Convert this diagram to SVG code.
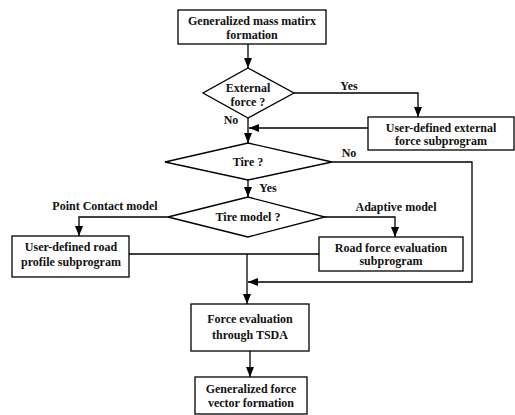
<svg xmlns="http://www.w3.org/2000/svg" width="515" height="415" viewBox="0 0 515 415">
<defs>
<marker id="ah" markerUnits="userSpaceOnUse" markerWidth="10" markerHeight="10" viewBox="0 0 10 10" refX="10" refY="5" orient="auto">
<path d="M0,1 L10,5 L0,9 Z" fill="#000"/>
</marker>
</defs>
<style>
.n{fill:#fff;stroke:#000;stroke-width:1.3}
.c{fill:none;stroke:#000;stroke-width:1.3}
text{font-family:"Liberation Serif","Times New Roman",serif;font-size:12px;font-weight:bold;fill:#111}
.m{text-anchor:middle}
</style>
<rect width="515" height="415" fill="#fff"/>
<g id="connectors">
<path class="c" d="M248,44 V68" marker-end="url(#ah)"/>
<path class="c" d="M294,93 H418 V117" marker-end="url(#ah)"/>
<path class="c" d="M368,128 H249" marker-end="url(#ah)"/>
<path class="c" d="M248,118 V143" marker-end="url(#ah)"/>
<path class="c" d="M332,162 H472 V282 H248" marker-end="url(#ah)"/>
<path class="c" d="M248,180 V197" marker-end="url(#ah)"/>
<path class="c" d="M168,217 H79 V236" marker-end="url(#ah)"/>
<path class="c" d="M325,217 H395 V237" marker-end="url(#ah)"/>
<path class="c" d="M129,254 H319"/>
<path class="c" d="M247,254 V304" marker-end="url(#ah)"/>
<path class="c" d="M250,351 V377" marker-end="url(#ah)"/>
<text x="349" y="90" class="m">Yes</text>
<text x="231" y="124" class="m">No</text>
<text x="349" y="157" class="m">No</text>
<text x="268" y="192" class="m">Yes</text>
<text x="105" y="210" class="m">Point Contact model</text>
<text x="396" y="211" class="m">Adaptive model</text>
</g>
<g id="n1">
<rect class="n" x="178" y="10" width="148" height="34"/>
<text x="252" y="25" class="m">Generalized mass matirx</text>
<text x="252" y="39" class="m">formation</text>
</g>
<g id="n2">
<polygon class="n" points="248,68 294,93 248,118 203,93"/>
<text x="248" y="92" class="m">External</text>
<text x="248" y="106" class="m">force ?</text>
</g>
<g id="n3">
<rect class="n" x="368" y="117" width="146" height="33"/>
<text x="441" y="132" class="m">User-defined external</text>
<text x="441" y="145" class="m">force  subprogram</text>
</g>
<g id="n4">
<polygon class="n" points="248,143 332,162 248,180 165,162"/>
<text x="248" y="166" class="m">Tire ?</text>
</g>
<g id="n5">
<polygon class="n" points="248,197 325,217 248,237 168,217"/>
<text x="248" y="221" class="m">Tire model ?</text>
</g>
<g id="n6">
<rect class="n" x="12" y="236" width="117" height="41"/>
<text x="71" y="251" class="m">User-defined road</text>
<text x="71" y="266" class="m">profile  subprogram</text>
</g>
<g id="n7">
<rect class="n" x="319" y="237" width="144" height="34"/>
<text x="391" y="252" class="m">Road force evaluation</text>
<text x="391" y="265" class="m">subprogram</text>
</g>
<g id="n8">
<rect class="n" x="191" y="304" width="118" height="47"/>
<text x="250" y="323" class="m">Force evaluation</text>
<text x="250" y="339" class="m">through TSDA</text>
</g>
<g id="n9">
<rect class="n" x="195" y="377" width="112" height="37"/>
<text x="251" y="393" class="m">Generalized force</text>
<text x="251" y="407" class="m">vector formation</text>
</g>
</svg>
